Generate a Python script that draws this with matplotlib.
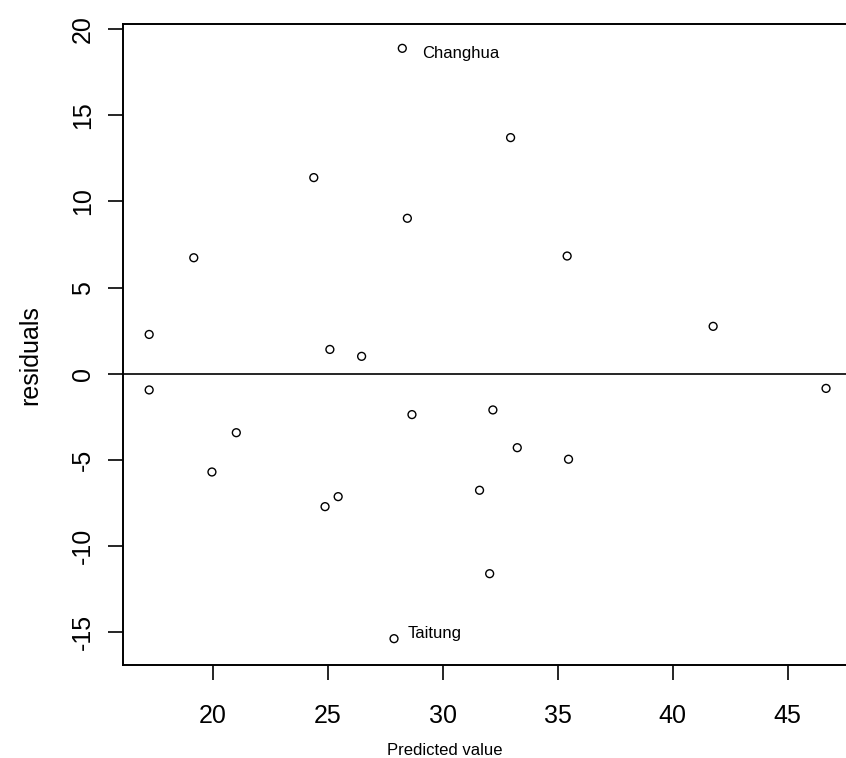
import matplotlib
matplotlib.use("Agg")
import matplotlib.pyplot as plt

# residuals vs predicted values
predicted = [28.24, 32.95, 24.39, 28.46, 19.17, 35.41, 17.23, 25.09, 26.47, 41.76,
             17.23, 46.67, 21.02, 19.96, 28.66, 24.88, 25.45, 32.18, 33.24, 35.47,
             31.60, 32.04, 27.88]
residuals = [18.88, 13.70, 11.38, 9.02, 6.73, 6.83, 2.28, 1.41, 1.01, 2.75,
             -0.94, -0.85, -3.42, -5.70, -2.37, -7.71, -7.13, -2.10, -4.29, -4.96,
             -6.76, -11.60, -15.37]
labels = {0: "Changhua", 22: "Taitung"}
label_offsets = {0: (14, -3.6), 22: (9.6, 3.4)}

xticks = [20, 25, 30, 35, 40, 45]
yticks = [-15, -10, -5, 0, 5, 10, 15, 20]

plt.rcParams["font.family"] = ["Liberation Sans", "DejaVu Sans"]
plt.rcParams["axes.unicode_minus"] = False  # R draws a plain hyphen

fig = plt.figure(figsize=(8.46, 7.58), dpi=100)
# right edge of the plot box falls just outside the image, as in the original
ax = fig.add_axes([0.1448, 0.1231, 1.0071 - 0.1448, 0.9683 - 0.1231])

ax.scatter(predicted, residuals, s=32, facecolors="none", edgecolors="black",
           linewidths=1.0, zorder=3)
ax.axhline(0, color="black", linewidth=1.2)

for i, name in labels.items():
    ax.annotate(name, (predicted[i], residuals[i]), xytext=label_offsets[i],
                textcoords="offset points", ha="left", va="center", fontsize=12)

ax.set_xlim(16.07, 47.8)
ax.set_ylim(-16.88, 20.29)
ax.set_xticks(xticks)
ax.set_yticks(yticks)
ax.tick_params(axis="both", length=11, width=1.2, labelsize=18)
ax.tick_params(axis="x", pad=17)
ax.tick_params(axis="y", pad=9)
plt.setp(ax.get_yticklabels(), rotation=90, va="center")
for side in ["left", "bottom", "top"]:
    ax.spines[side].set_linewidth(1.4)

fig.text(445 / 846, 1 - 750.7 / 758, "Predicted value", ha="center", va="center",
         fontsize=12)
fig.text(30 / 846, 1 - 355 / 758, "residuals", ha="center", va="center",
         rotation=90, fontsize=18)

fig.savefig("out.png", dpi=100)
